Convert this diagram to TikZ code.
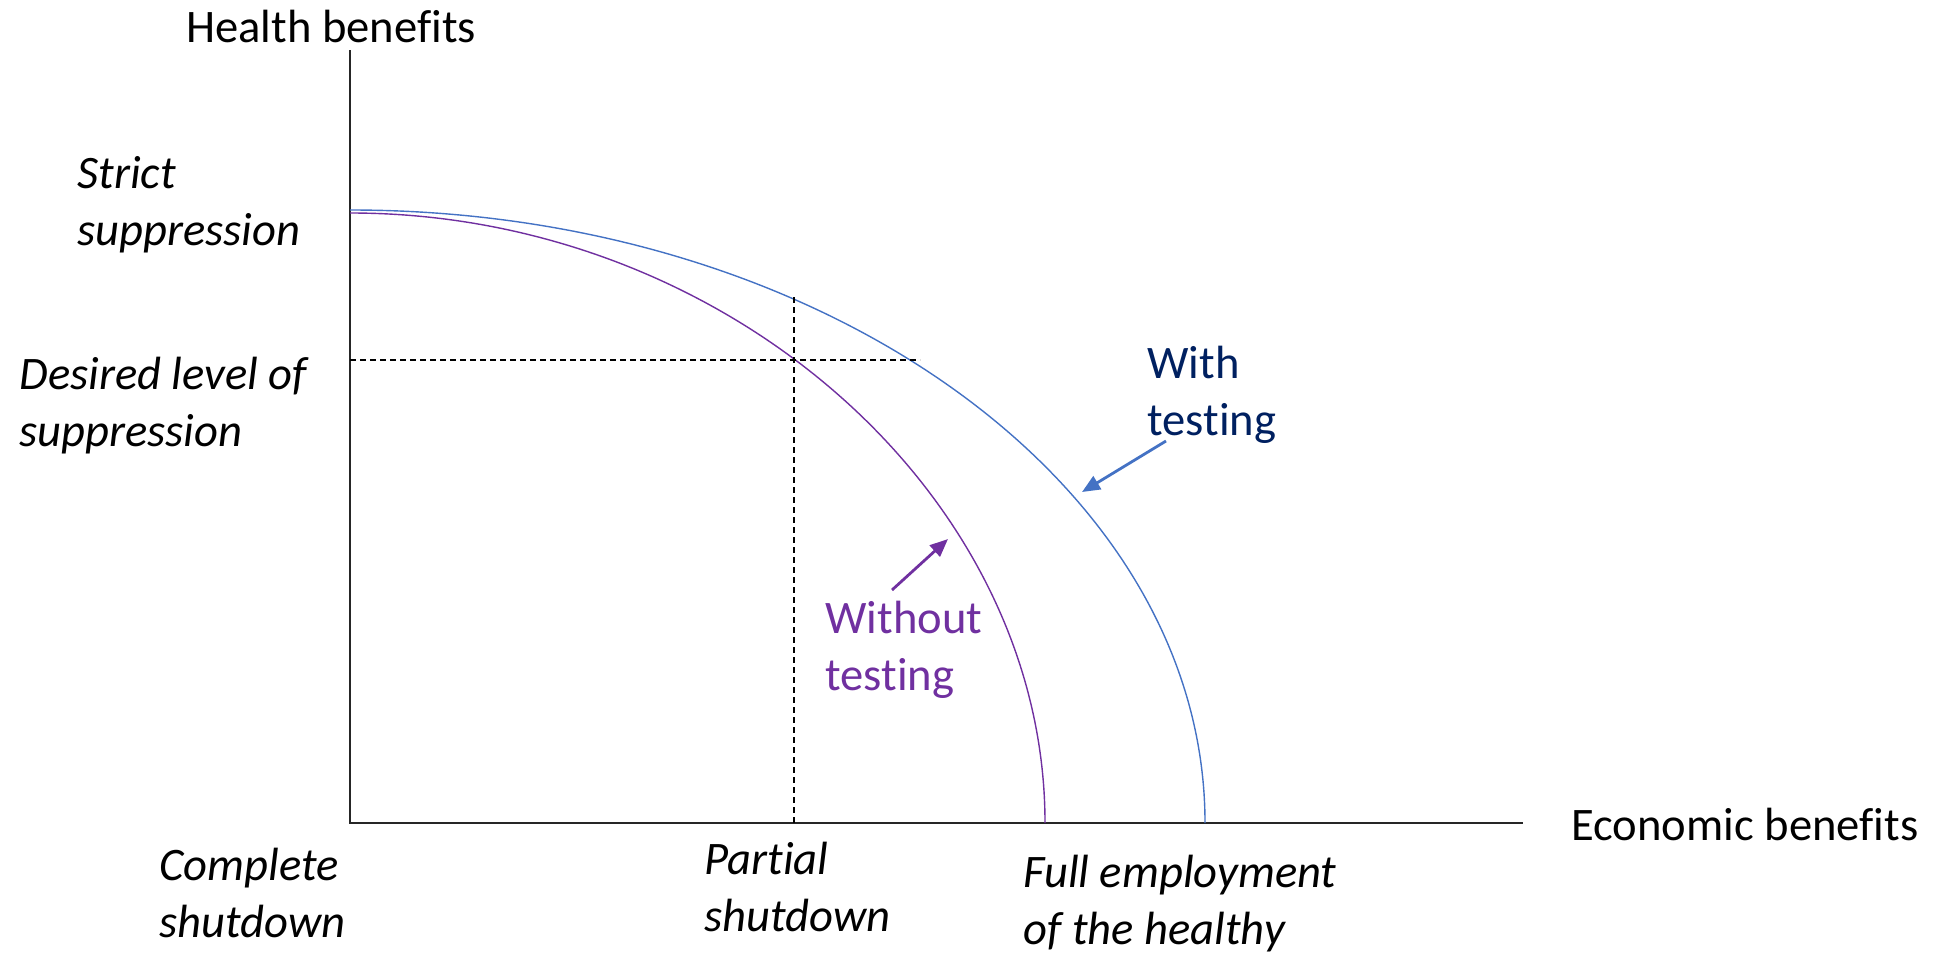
\documentclass[tikz,border=0pt]{standalone}
\usepackage{fontspec}
\setmainfont{Carlito}[Ligatures=NoCommon]
\usetikzlibrary{arrows.meta}
\definecolor{testblue}{HTML}{4472C4}
\definecolor{notestpurple}{HTML}{7030A0}
\definecolor{navytext}{HTML}{002060}

\begin{document}
\begin{tikzpicture}[x=0.5pt,y=-0.5pt,
    every node/.style={inner sep=0pt,anchor=base west,align=left,
      font=\fontsize{23.3}{28.5}\selectfont},
    axis/.style={line width=0.75pt,draw=black!85},
    guide/.style={line width=0.7pt,dash pattern=on 3pt off 2pt},
    frontier/.style={line width=0.7pt},
    pointer/.style={line width=1.4pt,-{Triangle[length=9pt,width=7.5pt]}},
    case/.style={font=\fontsize{23.3}{28.5}\selectfont\itshape}]
  \useasboundingbox (0,0) rectangle (1942,953);

  % axes
  \coordinate (origin) at (350,823);
  \coordinate (ytop) at (350,50);
  \coordinate (xend) at (1523,823);
  \draw[axis] (ytop) -- (origin) -- (xend);

  \node (health) at (186,42) {Health benefits};
  \node (econ) at (1571,840) {Economic benefits};

  % the two frontiers
  \draw[frontier,testblue] (350,210) .. controls (822,210) and (1205,485) .. (1205,823);
  \draw[frontier,notestpurple] (350,213) .. controls (725,213) and (1045,494) .. (1045,823);

  % desired level and partial shutdown
  \coordinate (desiredleft) at (350,360);
  \coordinate (desiredright) at (920,360);
  \coordinate (partialtop) at (794,297);
  \coordinate (partialfoot) at (794,823);
  \draw[guide] (desiredleft) -- (desiredright);
  \draw[guide] (partialtop) -- (partialfoot);

  % labels on the axes (base = last line)
  \node[case] (strict) at (77,245) {Strict\\suppression};
  \node[case] (desired) at (19,446) {Desired level of\\suppression};
  \node[case] (complete) at (159,937) {Complete\\shutdown};
  \node[case] (partial) at (704,931) {Partial\\shutdown};
  \node[case] (fullemp) at (1023,944) {Full employment\\of the healthy};

  % curve labels
  \node[text=navytext] (withtest) at (1147,435) {With\\testing};
  \node[text=notestpurple] (withouttest) at (825,690) {Without\\testing};

  \coordinate (withtail) at (1166,441);
  \coordinate (withtip) at (1082,492);
  \coordinate (withouttail) at (892,590);
  \coordinate (withouttip) at (948,539);
  \draw[pointer,testblue] (withtail) -- (withtip);
  \draw[pointer,notestpurple] (withouttail) -- (withouttip);
\end{tikzpicture}
\end{document}
